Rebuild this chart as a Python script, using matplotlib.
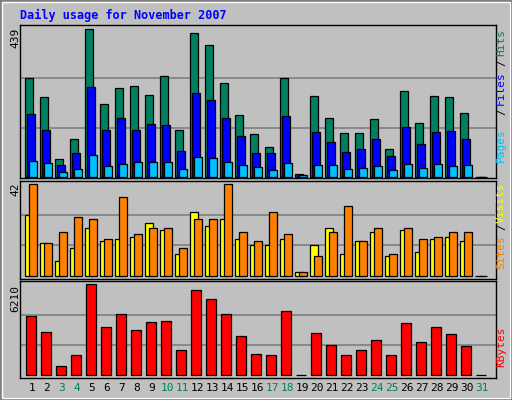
import matplotlib
matplotlib.use("Agg")
import matplotlib.pyplot as plt
from matplotlib.patches import Rectangle

days = list(range(1, 32))
weekend_days = [3, 4, 10, 11, 17, 18, 24, 25, 31]
hits = [295, 238, 52, 112, 439, 216, 263, 269, 242, 299, 138, 427, 391, 278, 183,
        126, 87, 293, 7, 239, 174, 129, 129, 171, 81, 254, 159, 239, 236, 189, 0]
files = [186, 138, 34, 70, 266, 138, 174, 138, 156, 153, 78, 248, 227, 174, 120,
         70, 70, 180, 5, 132, 102, 73, 81, 111, 61, 147, 96, 132, 135, 111, 0]
pages = [46, 40, 13, 22, 64, 31, 37, 43, 43, 43, 22, 58, 55, 43, 34,
         28, 19, 40, 4, 34, 34, 22, 25, 31, 19, 37, 25, 37, 31, 34, 0]
visits = [28, 15, 7, 13, 22, 16, 17, 18, 24, 21, 10, 29, 23, 26, 17,
          14, 14, 17, 2, 14, 22, 10, 16, 20, 9, 21, 11, 17, 18, 16, 0]
sites = [42, 15, 20, 27, 26, 17, 36, 19, 22, 22, 13, 26, 26, 42, 20,
         16, 29, 19, 2, 9, 20, 32, 16, 22, 10, 22, 17, 18, 20, 20, 0]
kbytes = [4026, 2935, 614, 1365, 6210, 3276, 4163, 3071, 3617, 3685, 1706, 5801, 5187, 4163, 2662,
          1433, 1365, 4368, 40, 2866, 2047, 1365, 1706, 2389, 1365, 3549, 2252, 3276, 2798, 1979, 0]

BG = "#C0C0C0"
W, H = 512, 400
fig = plt.figure(figsize=(W / 100, H / 100), dpi=100, facecolor=BG)

def ax_px(x0, y0, x1, y1):
    return fig.add_axes([x0 / W, 1 - y1 / H, (x1 - x0) / W, (y1 - y0) / H])

XL = (0.267, 0.267 + 476 / 15)

def setup(ax, ylim, grid):
    ax.set_facecolor(BG)
    ax.set_xlim(*XL)
    ax.set_ylim(*ylim)
    ax.set_xticks([]); ax.set_yticks([])
    for g in grid:
        ax.axhline(g, color="#808080", lw=1.2, zorder=0)
    for s in ax.spines.values():
        s.set_color("black"); s.set_linewidth(1)

ec = dict(edgecolor="black", linewidth=0.9, align="edge", zorder=2)
u = 1 / 15  # one pixel in x units

ax1 = ax_px(20, 24.7, 496, 178)
setup(ax1, (-3.9, 452.7), [439 / 3, 439 * 2 / 3])
ax1.bar([d - 6 * u for d in days], hits, width=8 * u, color="#008060", **ec)
ax1.bar([d - 4 * u for d in days], files, width=8 * u, color="#0000FF", **ec)
ax1.bar([d - 2 * u for d in days], pages, width=8 * u, color="#00C0FF", **ec)

ax2 = ax_px(20, 180.7, 496, 279)
setup(ax2, (-1.37, 43.5), [14, 28])
ax2.bar([d - 6 * u for d in days], visits, width=8 * u, color="#FFFF00", **ec)
ax2.bar([d - 2 * u for d in days], sites, width=8 * u, color="#FF8000", **ec)

ax3 = ax_px(20, 281, 496, 377.5)
setup(ax3, (-150, 6435), [2070, 4140])
ax3.bar([d - 5 * u for d in days], kbytes, width=10.5 * u, color="#FF0000", **ec)

mono = "DejaVu Sans Mono"
def ftext(x, y, s, color="black", rot=0, size=8, ha="center", va="center", weight="normal"):
    fig.text(x / W, 1 - y / H, s, color=color, rotation=rot, fontsize=size,
             ha=ha, va=va, family=mono, weight=weight)

ftext(20, 15, "Daily usage for November 2007", color="#0000FF", size=8.5, ha="left", weight="bold")

for d in days:
    x = 20 + (d - XL[0]) * 15
    ftext(x + 1, 388, str(d), color="#008060" if d in weekend_days else "black", size=8)

ftext(15, 38, "439", rot=90, size=8)
ftext(15, 189, "42", rot=90, size=8)
ftext(15, 298, "6210", rot=90, size=8)

rx = 501
ftext(rx, 145, "Pages", color="#00C0FF", rot=90)
ftext(rx, 112, "/", rot=90)
ftext(rx, 88, "Files", color="#0000FF", rot=90)
ftext(rx, 63, "/", rot=90)
ftext(rx, 42, "Hits", color="#008060", rot=90)
ftext(rx, 252, "Sites", color="#FF8000", rot=90)
ftext(rx, 227, "/", rot=90)
ftext(rx, 203, "Visits", color="#FFFF00", rot=90)
ftext(rx, 347, "KBytes", color="#FF0000", rot=90)

# 3D bevel border
fig.patches.append(Rectangle((0, 0), 1, 1, transform=fig.transFigure, fill=False,
                             edgecolor="#808080", lw=3))
fig.patches.append(Rectangle((2 / W, 2 / H), 1 - 4 / W, 1 - 4 / H, transform=fig.transFigure,
                             fill=False, edgecolor="white", lw=1))

fig.savefig("out.png", dpi=100, facecolor=BG)
